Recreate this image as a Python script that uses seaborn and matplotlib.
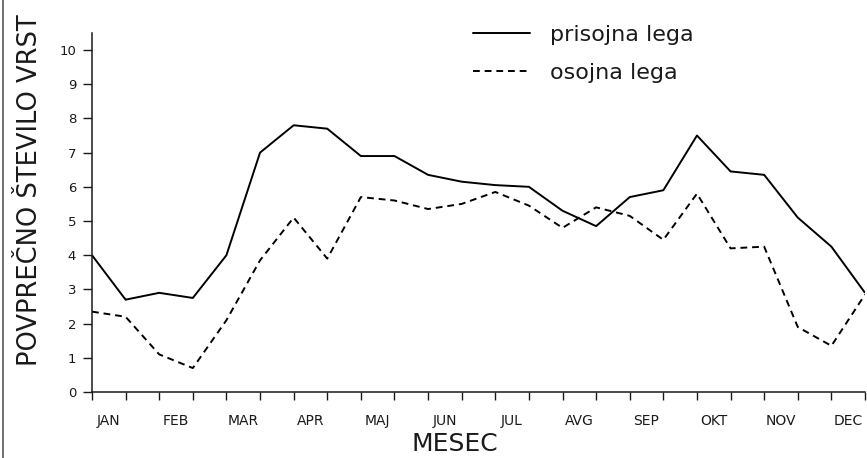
import pandas as pd
import matplotlib
matplotlib.use("Agg")
import matplotlib.pyplot as plt
import seaborn as sns
import numpy as np

# -------------------------------
# Data (two readings per month)
# -------------------------------
months = ['JAN', 'FEB', 'MAR', 'APR', 'MAJ', 'JUN',
          'JUL', 'AVG', 'SEP', 'OKT', 'NOV', 'DEC']
prisojna = [4.0, 2.7, 2.9, 2.75, 4.0, 7.0, 7.8, 7.7, 6.9, 6.9, 6.35, 6.15,
            6.05, 6.0, 5.3, 4.85, 5.7, 5.9, 7.5, 6.45, 6.35, 5.1, 4.25, 2.9]
osojna = [2.35, 2.2, 1.1, 0.7, 2.1, 3.85, 5.1, 3.9, 5.7, 5.6, 5.35, 5.5,
          5.85, 5.45, 4.8, 5.4, 5.15, 4.45, 5.8, 4.2, 4.25, 1.9, 1.35, 2.85]
y_ticks = list(range(0, 11))

series_names = ['prisojna lega', 'osojna lega']

data = pd.DataFrame({
    'step': list(range(len(prisojna))) + list(range(len(osojna))),
    'value': prisojna + osojna,
    'lega': [series_names[0]] * len(prisojna) + [series_names[1]] * len(osojna),
})

# -------------------------------
# Style
# -------------------------------
sns.set_style('ticks')
plt.rcParams['font.family'] = ['DejaVu Sans']
ink = '#1a1a1a'

fig = plt.figure(figsize=(8.67, 4.58), dpi=100)
ax = fig.add_axes([0.1061, 0.1441, 0.8916, 0.784])

sns.lineplot(data=data, x='step', y='value', style='lega',
             style_order=series_names, dashes=[(1, 0), (3.5, 2.5)],
             color='black', linewidth=1.4, ax=ax, legend=False)

ax.set_xlim(0, len(prisojna) - 1)
ax.set_ylim(0, 10.5)

# x: a tick at each half-month, month names in between
ax.set_xticks(np.arange(len(prisojna)))
ax.set_xticklabels([])
ax.set_xticks(np.arange(len(months)) * 2 + 0.5, minor=True)
ax.set_xticklabels(months, minor=True, fontsize=10, color=ink)
ax.tick_params(axis='x', which='major', direction='out', length=6, width=1, color=ink)
ax.tick_params(axis='x', which='minor', length=0, pad=16)

ax.set_yticks(y_ticks)
ax.set_yticklabels([str(v) for v in y_ticks], fontsize=9.5, color=ink)
ax.tick_params(axis='y', direction='out', length=6.5, width=1, color=ink, pad=5)

for side in ['top', 'right']:
    ax.spines[side].set_visible(False)
for side in ['left', 'bottom']:
    ax.spines[side].set_color(ink)
    ax.spines[side].set_linewidth(1.1)

ax.set_xlabel('')
ax.set_ylabel('')
fig.text(0.525, 0.004, 'MESEC', ha='center', va='bottom', fontsize=18, color=ink)
fig.text(0.035, 0.585, 'POVPREČNO ŠTEVILO VRST', ha='center', va='center',
         rotation=90, fontsize=18.5, color=ink)

# legend, no frame, top right
handles = [plt.Line2D([], [], color='black', lw=1.4),
           plt.Line2D([], [], color='black', lw=1.4, dashes=(3.5, 2.5))]
fig.legend(handles, series_names, loc='upper left',
           bbox_to_anchor=(0.522, 0.99), frameon=False, fontsize=16,
           handlelength=2.6, handletextpad=0.9, labelspacing=0.82,
           labelcolor=ink)

# left border of the scanned page
fig.add_artist(plt.Line2D([0.004, 0.004], [0.0, 1.0], color='#555555', lw=1.2))

plt.savefig('out.png', dpi=100)
